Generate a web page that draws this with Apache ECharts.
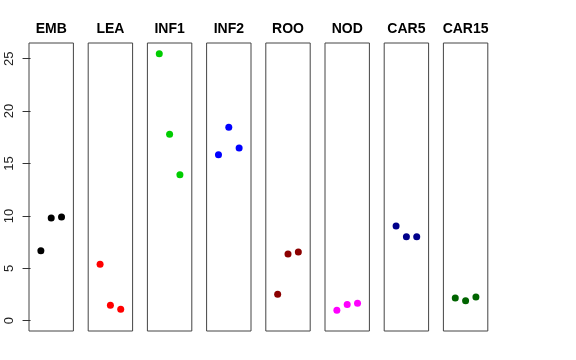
<!DOCTYPE html>
<html><head><meta charset="utf-8">
<script src="https://cdn.jsdelivr.net/npm/echarts@6/dist/echarts.min.js"></script>
<style>html,body{margin:0;padding:0;background:#fff}#c{width:576px;height:360px}</style>
</head><body><div id="c"></div>
<script>
var categories = ['EMB','LEA','INF1','INF2','ROO','NOD','CAR5','CAR15'];
var colors = ['#000000','#FF0000','#00CD00','#0000FF','#8B0000','#FF00FF','#00008B','#006400'];
var EMB = [6.68, 9.80, 9.90];
var LEA = [5.38, 1.47, 1.09];
var INF1 = [25.48, 17.79, 13.93];
var INF2 = [15.84, 18.45, 16.48];
var ROO = [2.52, 6.36, 6.56];
var NOD = [0.99, 1.56, 1.66];
var CAR5 = [9.04, 8.02, 8.02];
var CAR15 = [2.17, 1.91, 2.26];
var seriesValues = [EMB, LEA, INF1, INF2, ROO, NOD, CAR5, CAR15];
var yTicks = [0, 5, 10, 15, 20, 25];

(function(){
var chart = echarts.init(document.getElementById('c'), null, {renderer:'canvas'});
var grids=[], xAxes=[], yAxes=[], series=[], titles=[];
var panelLeft = 29, panelStep = 59.2, panelW = 44.4, panelTop = 43, panelH = 288;
categories.forEach(function(cat, i){
  var l = panelLeft + i*panelStep;
  grids.push({left:l, top:panelTop, width:panelW, height:panelH, show:true, borderColor:'#444', borderWidth:1, backgroundColor:'transparent'});
  xAxes.push({type:'value', gridIndex:i, min:-0.15, max:4.15, show:false});
  var ya = {type:'value', gridIndex:i, min:-0.98, max:26.5, splitLine:{show:false}, axisLine:{show:false}};
  if(i===0){
    ya.axisTick = {show:true, length:8, customValues:yTicks, lineStyle:{color:'#333'}};
    ya.axisLabel = {show:true, customValues:yTicks, rotate:90, margin:13, fontSize:13, color:'#222', fontFamily:'Liberation Sans, Arial, sans-serif'};
  } else {
    ya.axisTick = {show:false}; ya.axisLabel = {show:false};
  }
  yAxes.push(ya);
  series.push({type:'scatter', xAxisIndex:i, yAxisIndex:i, symbolSize:7,
    itemStyle:{color:colors[i], opacity:1},
    data: seriesValues[i].map(function(v,j){return [j+1, v];})});
  titles.push({text:cat, left:l+panelW/2, textAlign:'center', top:22, padding:0,
    textStyle:{fontSize:14, fontWeight:'bold', color:'#000', fontFamily:'Liberation Sans, Arial, sans-serif'}});
});
chart.setOption({animation:false, title:titles, grid:grids, xAxis:xAxes, yAxis:yAxes, series:series});
})();
</script></body></html>
